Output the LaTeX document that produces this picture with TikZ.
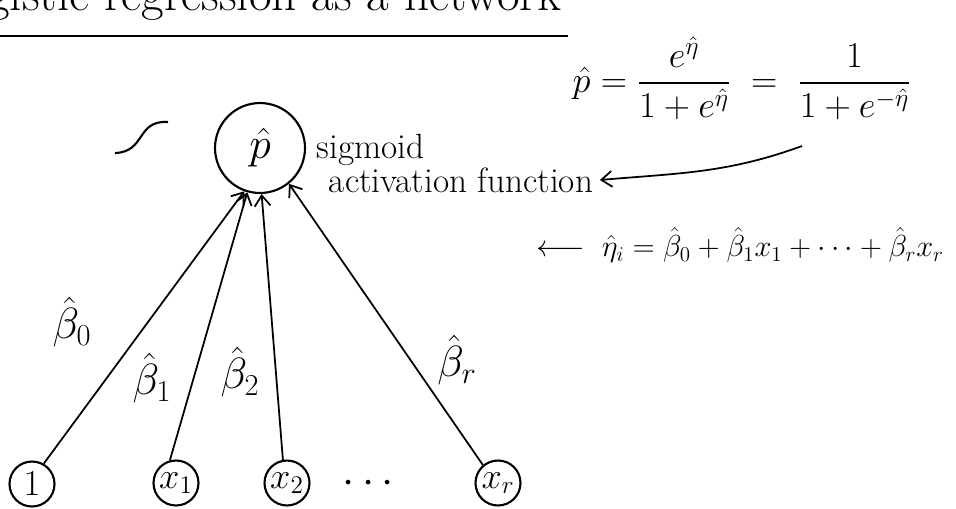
\documentclass[tikz,border=0pt]{standalone}
\usepackage{amsmath}
\usetikzlibrary{arrows.meta}
\begin{document}
\begin{tikzpicture}[x=0.02cm,y=-0.02cm,line width=1.2pt,>={Straight Barb[length=6pt,width=9pt]},
                    txt/.style={font=\fontsize{20}{24}\selectfont},
                    big/.style={font=\fontsize{24}{28}\selectfont},
                    outunit/.style={draw,circle,minimum size=1.8cm,inner sep=0pt,big},
                    inunit/.style={draw,circle,minimum size=0.9cm,inner sep=0pt,txt},
                    weight/.style={->,line width=1pt}]
                    \useasboundingbox (0,0) rectangle (956,508);
                    \clip (0,0) rectangle (956,508);
                    % title, cut at the top edge
                    \node[anchor=base east,font=\fontsize{28}{32}\selectfont] (title) at (568,10) {Logistic regression as a network};
                    \coordinate (ul0) at (0,36);
                    \coordinate (ul1) at (568,36);
                    \draw (ul0) -- (ul1);
                    % formula
                    \node[font=\fontsize{21}{25}\selectfont] (sig) at (742,78) {$\hat p=\dfrac{e^{\hat\eta}}{1+e^{\hat\eta}}\;=\;\dfrac{1}{1+e^{-\hat\eta}}$};
                    \node[font=\fontsize{18}{22}\selectfont] (eta) at (740,245) {$\longleftarrow\;\hat\eta_i=\hat\beta_0+\hat\beta_1x_1+\dots+\hat\beta_rx_r$};
                    % network
                    \node[outunit] (p) at (260,148) {$\hat p$};
                    \node[txt,anchor=west] (sname) at (310,150) {sigmoid};
                    \node[txt,anchor=west] (act) at (322,180) {activation function};
                    \node[inunit] (one) at (32,484) {$1$};
                    \node[inunit] (x1) at (176,483) {$x_1$};
                    \node[inunit] (x2) at (287,483) {$x_2$};
                    \node[big] (dots) at (372,484) {$\cdots$};
                    \node[inunit] (xr) at (498,483) {$x_r$};
                    \draw[weight] (one.60) -- (p.250);
                    \draw[weight] (x1.105) -- (p.254);
                    \draw[weight] (x2.100) -- (p.272);
                    \draw[weight] (xr.130) -- (p.309);
                    \node[big] (b0) at (72,322) {$\hat\beta_0$};
                    \node[big] (b1) at (152,378) {$\hat\beta_1$};
                    \node[big] (b2) at (240,372) {$\hat\beta_2$};
                    \node[big] (br) at (457,360) {$\hat\beta_r$};
                    % sigmoid squiggle
                    \draw (115,153) .. controls (146,152) and (136,120) .. (168,122);
                    % pointer to the activation function
                    \coordinate (tail) at (802,146);
                    \draw[->,line width=1pt] (tail) to[out=200,in=5] (act.east);
                \end{tikzpicture}
\end{document}
